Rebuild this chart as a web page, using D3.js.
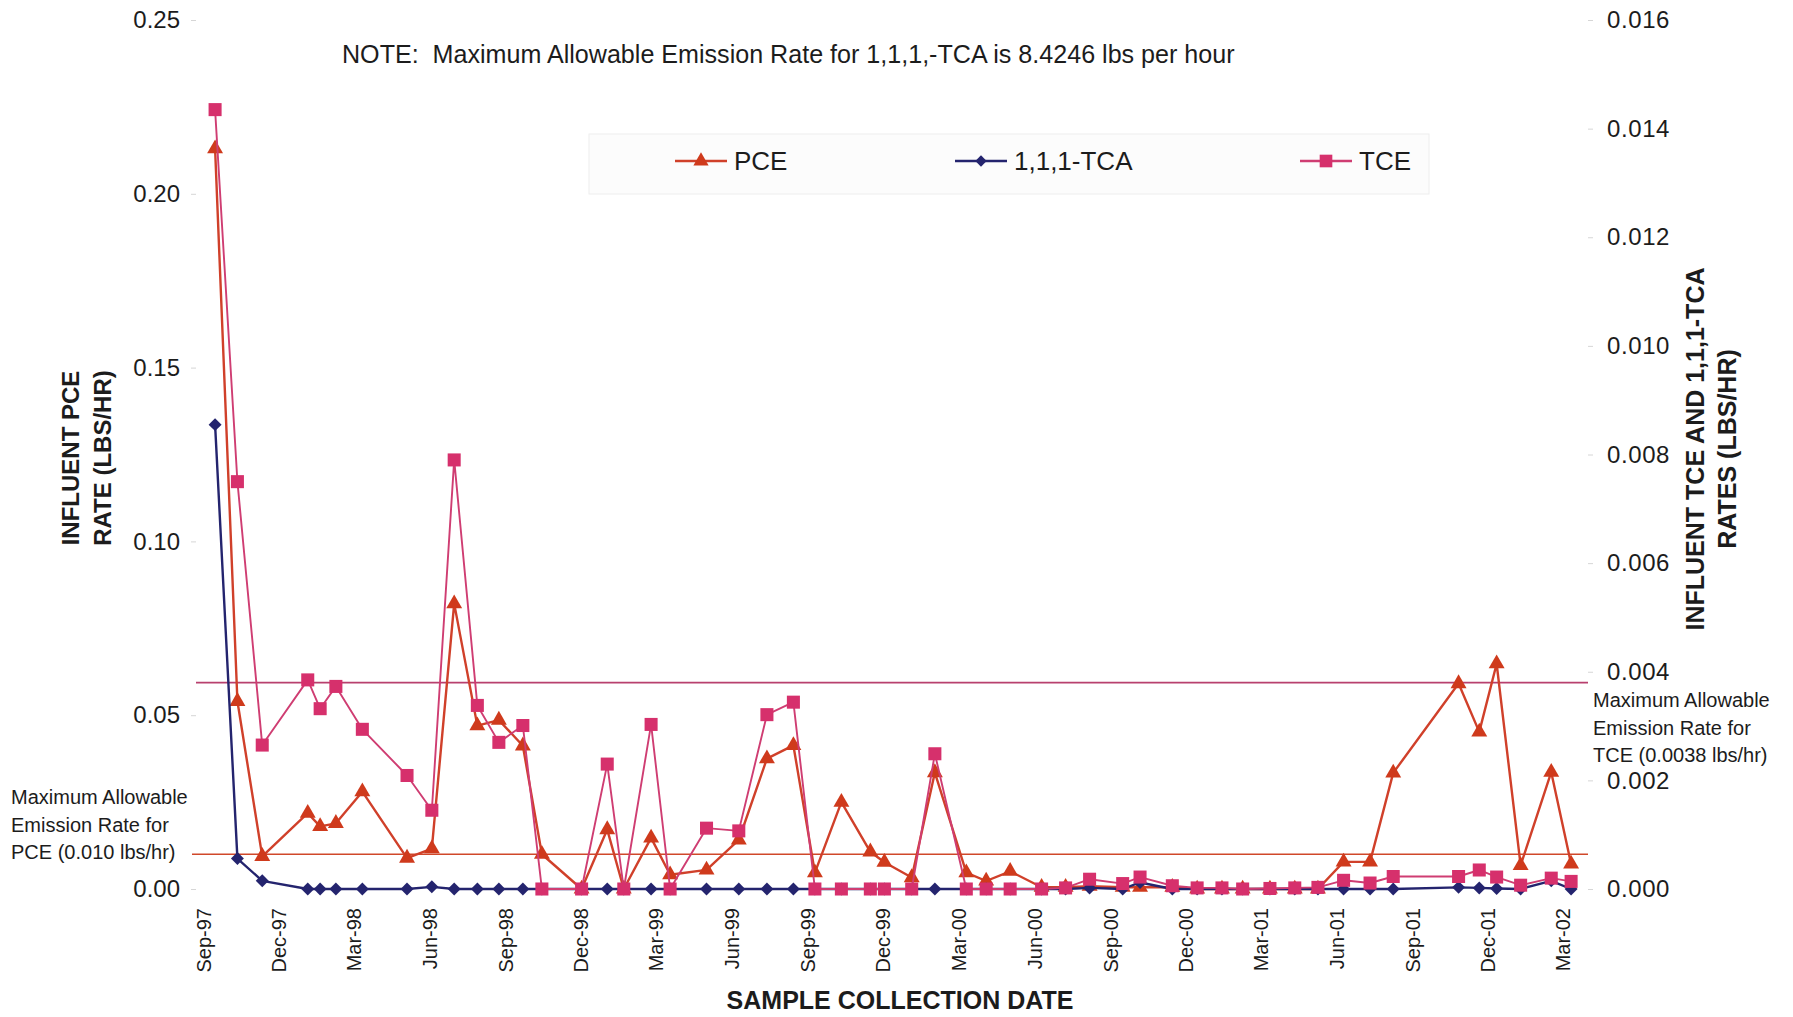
<!DOCTYPE html>
<html>
<head>
<meta charset="utf-8">
<script src="https://cdn.jsdelivr.net/npm/d3@7"></script>
<style>
  html, body { margin: 0; padding: 0; background: #fff; }
  svg { display: block; font-family: "Liberation Sans", Arial, Helvetica, sans-serif; }
  .pre { white-space: pre; }
</style>
</head>
<body>
<svg id="chart" width="1793" height="1017"></svg>
<script>
// Sampling dates of the influent air stream
const sampleDates = [
  "1997-09-15","1997-10-12","1997-11-11","1998-01-05","1998-01-20","1998-02-08","1998-03-12",
  "1998-05-05","1998-06-04","1998-07-01","1998-07-29","1998-08-24","1998-09-22","1998-10-15",
  "1998-12-02","1999-01-02","1999-01-22","1999-02-24","1999-03-19","1999-05-02","1999-06-10",
  "1999-07-14","1999-08-15","1999-09-10","1999-10-12","1999-11-16","1999-12-03","2000-01-05",
  "2000-02-02","2000-03-11","2000-04-04","2000-05-03","2000-06-10","2000-07-09","2000-08-07",
  "2000-09-16","2000-10-07","2000-11-15","2000-12-15","2001-01-14","2001-02-08","2001-03-13",
  "2001-04-12","2001-05-10","2001-06-10","2001-07-12","2001-08-09","2001-10-27","2001-11-21",
  "2001-12-12","2002-01-10","2002-02-16","2002-03-12"
];

// PCE influent rate, lbs/hr (left axis)
const pceValues = [
  0.213, 0.054, 0.0094, 0.0218, 0.018, 0.0189, 0.028,
  0.0089, 0.0116, 0.0821, 0.047, 0.0486, 0.0412, 0.010,
  0.0, 0.0171, 0.0, 0.0147, 0.0041, 0.0055, 0.0141,
  0.0375, 0.0413, 0.0047, 0.025, 0.0107, 0.0077, 0.0033,
  0.0335, 0.0047, 0.0023, 0.0051, 0.0005, 0.0005, 0.0008,
  0.0005, 0.0005, 0.0005, 0.0, 0.0, 0.0, 0.0,
  0.0, 0.0, 0.0078, 0.0078, 0.0334, 0.0591, 0.0452,
  0.0648, 0.0068, 0.0336, 0.0072
];

// 1,1,1-TCA influent rate, lbs/hr (right axis)
const tcaValues = [
  0.00855, 0.00056, 0.00015, 0.0, 0.0, 0.0, 0.0,
  0.0, 0.00004, 0.0, 0.0, 0.0, 0.0, 0.0,
  0.0, 0.0, 0.0, 0.0, 0.0, 0.0, 0.0,
  0.0, 0.0, 0.0, 0.0, 0.0, 0.0, 0.0,
  0.0, 0.0, 0.0, 0.0, 0.0, 0.0, 0.00002,
  0.0, 0.00012, 0.0, 0.0, 0.0, 0.0, 0.0,
  0.0, 0.0, 0.0, 0.0, 0.0, 0.00003, 0.00002,
  0.00001, 0.0, 0.00015, 0.0
];

// TCE influent rate, lbs/hr (right axis)
const tceValues = [
  0.01435, 0.0075, 0.00265, 0.00385, 0.00332, 0.00373, 0.00294,
  0.00209, 0.00145, 0.0079, 0.00338, 0.0027, 0.00301, 0.0,
  0.0, 0.0023, 0.0, 0.00303, 0.0, 0.00112, 0.00107,
  0.00321, 0.00344, 0.0, 0.0, 0.0, 0.0, 0.0,
  0.00249, 0.0, 0.0, 0.0, 0.0, 0.00002, 0.00018,
  0.0001, 0.00022, 0.00006, 0.00002, 0.00002, 0.0, 0.00001,
  0.00002, 0.00003, 0.00016, 0.00011, 0.00023, 0.00023, 0.00035,
  0.00022, 0.00007, 0.0002, 0.00014
];

// Permitted emission limits
const pceLimit = 0.010;
const tceLimit = 0.0038;

// Axis ticks
const xTickDates = [
  "1997-09-01","1997-12-01","1998-03-01","1998-06-01","1998-09-01","1998-12-01",
  "1999-03-01","1999-06-01","1999-09-01","1999-12-01","2000-03-01","2000-06-01",
  "2000-09-01","2000-12-01","2001-03-01","2001-06-01","2001-09-01","2001-12-01","2002-03-01"
];
const leftTicks = [0, 0.05, 0.10, 0.15, 0.20, 0.25];
const rightTicks = [0, 0.002, 0.004, 0.006, 0.008, 0.010, 0.012, 0.014, 0.016];

const legendLabels = ["PCE", "1,1,1-TCA", "TCE"];

// ---- layout ----
const plot = { left: 196, right: 1588, top: 20, bottom: 889 };
const parse = d3.timeParse("%Y-%m-%d");
const fmtMonth = d3.timeFormat("%b-%y");

const x = d3.scaleTime()
  .domain([parse("1997-09-01"), parse("2002-03-01")])
  .range([203.5, 1562]);
const yLeft = d3.scaleLinear().domain([0, 0.25]).range([plot.bottom, plot.top]);
const yRight = d3.scaleLinear().domain([0, 0.016]).range([plot.bottom, plot.top]);

const colors = {
  pce: "#cf3a1c",
  pceLine: "#d0402a",
  tca: "#24246e",
  tce: "#d6306c",
  tceLine: "#cf3d72",
  pceLimit: "#d0482a",
  tceLimit: "#b8406e",
  text: "#1c1c1c"
};

const svg = d3.select("#chart");
svg.append("rect").attr("width", 1793).attr("height", 1017).attr("fill", "#fff");

// ---- axes ----
const leftAxis = svg.append("g")
  .attr("transform", `translate(${plot.left},0)`)
  .call(d3.axisLeft(yLeft).tickValues(leftTicks).tickFormat(d3.format(".2f")).tickSize(5).tickPadding(11));
leftAxis.select(".domain").remove();
leftAxis.selectAll("line").attr("stroke", "#d6d6d6");
leftAxis.selectAll("text").attr("font-size", 24).attr("fill", colors.text).attr("font-family", null);

const rightAxis = svg.append("g")
  .attr("transform", `translate(${plot.right},0)`)
  .call(d3.axisRight(yRight).tickValues(rightTicks).tickFormat(d3.format(".3f")).tickSize(5).tickPadding(14));
rightAxis.select(".domain").remove();
rightAxis.selectAll("line").attr("stroke", "#d6d6d6");
rightAxis.selectAll("text").attr("font-size", 24).attr("fill", colors.text).attr("font-family", null)
  .attr("letter-spacing", 0.6);

const xAxis = svg.append("g")
  .attr("transform", `translate(0,${plot.bottom})`)
  .call(d3.axisBottom(x).tickValues(xTickDates.map(parse)).tickFormat(fmtMonth).tickSize(0));
xAxis.select(".domain").remove();
xAxis.selectAll("text")
  .attr("font-size", 20).attr("fill", colors.text).attr("font-family", null)
  .attr("transform", "rotate(-90)")
  .attr("text-anchor", "end")
  .attr("x", -19).attr("y", 0).attr("dy", "0.35em");

// ---- limit lines ----
svg.append("line")
  .attr("x1", plot.left).attr("x2", plot.right)
  .attr("y1", yRight(tceLimit)).attr("y2", yRight(tceLimit))
  .attr("stroke", colors.tceLimit).attr("stroke-width", 1.6);
svg.append("line")
  .attr("x1", plot.left - 4).attr("x2", plot.right)
  .attr("y1", yLeft(pceLimit)).attr("y2", yLeft(pceLimit))
  .attr("stroke", colors.pceLimit).attr("stroke-width", 1.6);

// ---- series ----
const dates = sampleDates.map(parse);
const pceData = dates.map((d, i) => ({ date: d, v: pceValues[i] }));
const tcaData = dates.map((d, i) => ({ date: d, v: tcaValues[i] }));
const tceData = dates.map((d, i) => ({ date: d, v: tceValues[i] }));

const diamond = {
  draw(ctx, size) {
    const r = Math.sqrt(size / 2);
    ctx.moveTo(0, -r); ctx.lineTo(r, 0); ctx.lineTo(0, r); ctx.lineTo(-r, 0); ctx.closePath();
  }
};

function drawSeries(data, yScale, lineColor, lineWidth, markerColor, symbolType, symbolSize) {
  const g = svg.append("g");
  g.append("path")
    .datum(data)
    .attr("fill", "none")
    .attr("stroke", lineColor)
    .attr("stroke-width", lineWidth)
    .attr("stroke-linejoin", "round")
    .attr("d", d3.line().x(d => x(d.date)).y(d => yScale(d.v)));
  g.selectAll("path.mark")
    .data(data)
    .join("path")
    .attr("class", "mark")
    .attr("transform", d => `translate(${x(d.date)},${yScale(d.v)})`)
    .attr("d", d3.symbol().type(symbolType).size(symbolSize))
    .attr("fill", markerColor);
}

drawSeries(pceData, yLeft, colors.pceLine, 2.4, colors.pce, d3.symbolTriangle, 110);
drawSeries(tcaData, yRight, colors.tca, 2.4, colors.tca, diamond, 84);
drawSeries(tceData, yRight, colors.tceLine, 1.9, colors.tce, d3.symbolSquare, 170);

// ---- legend ----
const legend = svg.append("g");
legend.append("rect")
  .attr("x", 589).attr("y", 134).attr("width", 840).attr("height", 60)
  .attr("fill", "#fcfcfc").attr("stroke", "#eeeeee").attr("stroke-width", 1);
const legendItems = [
  { label: legendLabels[0], x0: 675, color: colors.pceLine, mark: colors.pce, type: d3.symbolTriangle, size: 100 },
  { label: legendLabels[1], x0: 955, color: colors.tca, mark: colors.tca, type: diamond, size: 64 },
  { label: legendLabels[2], x0: 1300, color: colors.tceLine, mark: colors.tce, type: d3.symbolSquare, size: 160 }
];
legendItems.forEach(it => {
  const cy = 161;
  legend.append("line").attr("x1", it.x0).attr("x2", it.x0 + 52).attr("y1", cy).attr("y2", cy)
    .attr("stroke", it.color).attr("stroke-width", 2.4);
  legend.append("path").attr("transform", `translate(${it.x0 + 26},${cy})`)
    .attr("d", d3.symbol().type(it.type).size(it.size)).attr("fill", it.mark);
  legend.append("text").attr("x", it.x0 + 59).attr("y", cy).attr("dy", "0.35em")
    .attr("font-size", 26).attr("fill", colors.text).text(it.label);
});

// ---- titles and notes ----
svg.append("text").attr("class", "pre")
  .attr("x", 342).attr("y", 63).attr("font-size", 25.1).attr("fill", colors.text)
  .text("NOTE:  Maximum Allowable Emission Rate for 1,1,1,-TCA is 8.4246 lbs per hour");

function rotatedTitle(lines, cx0, dxLine, cy, size) {
  lines.forEach((t, i) => {
    svg.append("text")
      .attr("transform", `translate(${cx0 + i * dxLine},${cy}) rotate(-90)`)
      .attr("text-anchor", "middle").attr("dy", "0.35em")
      .attr("font-size", size).attr("font-weight", "bold").attr("fill", colors.text)
      .text(t);
  });
}
rotatedTitle(["INFLUENT PCE", "RATE (LBS/HR)"], 71, 32, 458, 24);
rotatedTitle(["INFLUENT TCE AND 1,1,1-TCA", "RATES (LBS/HR)"], 1695, 32, 449, 25);

svg.append("text")
  .attr("x", 900).attr("y", 1000).attr("dy", "0.35em").attr("text-anchor", "middle")
  .attr("font-size", 25).attr("font-weight", "bold").attr("fill", colors.text)
  .text("SAMPLE COLLECTION DATE");

function noteBlock(lines, x0, y0) {
  lines.forEach((t, i) => {
    svg.append("text").attr("x", x0).attr("y", y0 + i * 27.5).attr("dy", "0.35em")
      .attr("font-size", 20).attr("fill", colors.text).text(t);
  });
}
noteBlock(["Maximum Allowable", "Emission Rate for", "PCE (0.010 lbs/hr)"], 11, 797);
noteBlock(["Maximum Allowable", "Emission Rate for", "TCE (0.0038 lbs/hr)"], 1593, 700);
</script>
</body>
</html>
